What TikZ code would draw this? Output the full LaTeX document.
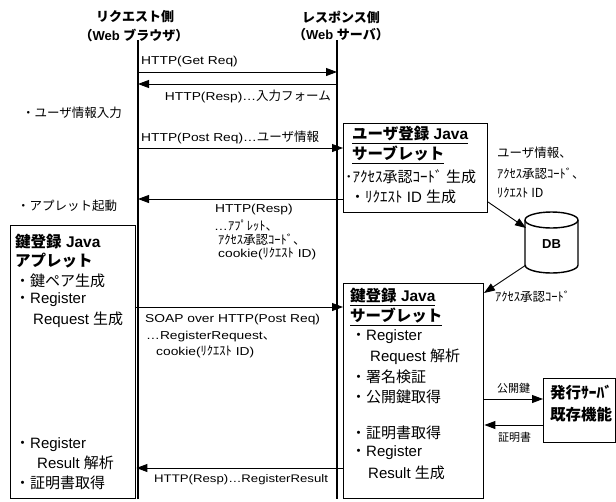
\documentclass[tikz,border=0pt]{standalone}
\usepackage{fontspec}
\setmainfont{Liberation Sans}
\newfontfamily\latf{Liberation Sans}[FakeStretch=1.2]
\newfontfamily\jpf{Noto Sans CJK JP}
\usetikzlibrary{arrows.meta}
\newcommand\LL[1]{{\fontsize{11.5}{13}\selectfont\latf #1}}
\newcommand\JL[1]{{\fontsize{12.5}{14}\selectfont\jpf #1}}
\newcommand\JS[1]{{\fontsize{11}{13}\selectfont\jpf #1}}
\newcommand\J[1]{{\jpf #1}}
\begin{document}
\begin{tikzpicture}[x=1pt,y=-1pt,
  box/.style={draw, line width=1.4pt, inner sep=0, anchor=north west},
  life/.style={line width=1.2pt},
  msg/.style={line width=0.9pt, -{Triangle[length=11pt,width=8pt]}},
  txt/.style={inner sep=0, anchor=west},
  bx/.style={txt, font=\fontsize{15}{17}\selectfont},
  hb/.style={txt, font=\fontsize{15.5}{17}\selectfont\bfseries},
  hd/.style={inner sep=0, font=\fontsize{13}{15}\selectfont\bfseries},
]
\useasboundingbox (0,0) rectangle (616,501);
% headers
\node[hd] (hL1) at (135,17) {\jpf リクエスト側};
\node[hd] (hL2) at (134,35) {\jpf （\rmfamily Web \jpf ブラウザ）};
\node[hd] (hR1) at (341,17) {\jpf レスポンス側};
\node[hd] (hR2) at (341,35) {\jpf （\rmfamily Web \jpf サーバ）};
% lifelines
\coordinate (Lt) at (138,40); \coordinate (Lb) at (138,499);
\coordinate (Rt) at (337,40); \coordinate (Rb) at (337,499);
\draw[life] (Lt) -- (Lb);
\draw[life] (Rt) -- (Rb);
% boxes
\node[box, minimum width=144pt, minimum height=89pt] (us) at (343,123) {};
\node[box, minimum width=125pt, minimum height=273pt] (ap) at (10,225) {};
\node[box, minimum width=140pt, minimum height=215pt] (ks) at (343,283) {};
\node[box, minimum width=72pt, minimum height=64pt] (hs) at (543,378) {};
% DB cylinder
\draw[line width=1.4pt] (525,220) -- (525,265) arc[start angle=180,end angle=0,x radius=26.5,y radius=8] -- (578,220);
\draw[line width=1.4pt] (551.5,220) ellipse[x radius=26.5,y radius=8];
\node[inner sep=0,font=\fontsize{13}{15}\selectfont\bfseries] (db) at (551.5,244) {DB};
% messages
\coordinate (m1a) at (138,72); \coordinate (m1b) at (337,72);
\draw[msg] (m1a) -- (m1b);
\coordinate (m2a) at (338,84); \coordinate (m2b) at (138,84);
\draw[msg] (m2a) -- (m2b);
\draw[msg] (Lt |- 0,148) -- (us.west |- 0,148);
\draw[msg] (us.west |- 0,199) -- (Lt |- 0,199);
\draw[msg] (ap.east |- 0,307) -- (ks.west |- 0,307);
\draw[msg] (ks.west |- 0,468) -- (ap.east |- 0,468);
\coordinate (d1a) at (488,202); \coordinate (d1b) at (526,228);
\draw[msg] (d1a) -- (d1b);
\coordinate (d2a) at (526,265); \coordinate (d2b) at (484,293);
\draw[msg] (d2a) -- (d2b);
\draw[msg] (ks.east |- 0,399) -- (hs.west |- 0,399);
\draw[msg] (hs.west |- 0,425) -- (ks.east |- 0,425);
% message labels
\node[txt] (l1) at (141,62) {\LL{HTTP(Get Req)}};
\node[txt,anchor=east] (l2) at (331,96) {\LL{HTTP(Resp)…}\JL{入力フォーム}};
\node[txt] (n1) at (22,113) {\JL{・ユーザ情報入力}};
\node[txt] (l3) at (141,137) {\LL{HTTP(Post Req)…}\JL{ユーザ情報}};
\node[txt] (n2) at (17,206) {\JL{・アプレット起動}};
\node[txt] (l4a) at (215,210) {\LL{HTTP(Resp)}};
\node[txt] (l4b) at (214,226) {\LL{…}\JL{ｱﾌﾟﾚｯﾄ、}};
\node[txt] (l4c) at (218,240) {\JL{ｱｸｾｽ承認ｺｰﾄﾞ、}};
\node[txt] (l4d) at (218,254) {\LL{cookie(}\JL{ﾘｸｴｽﾄ}\LL{ ID)}};
\node[txt] (l5a) at (145,320) {\LL{SOAP over HTTP(Post Req)}};
\node[txt] (l5b) at (146,337) {\LL{…RegisterRequest}\JL{、}};
\node[txt] (l5c) at (156,352) {\LL{cookie(}\JL{ﾘｸｴｽﾄ}\LL{ ID)}};
\node[txt] (l6) at (154,480) {{\fontsize{11}{13}\selectfont\latf HTTP(Resp)…RegisterResult}};
\node[txt] (d1) at (497,153) {\JL{ユーザ情報、}};
\node[txt] (d2) at (497,174) {\JL{ｱｸｾｽ承認ｺｰﾄﾞ、}};
\node[txt] (d3) at (497,193) {\JL{ﾘｸｴｽﾄ ID}};
\node[txt] (d4) at (495,297) {\JL{ｱｸｾｽ承認ｺｰﾄﾞ}};
\node[txt] (p1) at (497,388) {\JS{公開鍵}};
\node[txt] (p2) at (498,437) {\JS{証明書}};
% user servlet box text
\node[hb] (u1) at (352,135) {\underline{\J{ユーザ登録} Java}};
\node[hb] (u2) at (352,155) {\underline{\J{サーブレット}}};
\node[bx] (u3) at (345,177) {\J{･ｱｸｾｽ承認ｺｰﾄﾞ 生成}};
\node[bx] (u4) at (350,197) {\J{・ﾘｸｴｽﾄ} ID \J{生成}};
% applet box text
\node[hb] (a1) at (15,242) {\J{鍵登録} Java};
\node[hb] (a2) at (15,261) {\J{アプレット}};
\node[bx] (a3) at (15,281) {\J{・鍵ペア生成}};
\node[bx] (a4) at (15,300) {\J{・}Register};
\node[bx] (a5) at (33,320) {Request \J{生成}};
\node[bx] (a6) at (15,445) {\J{・}Register};
\node[bx] (a7) at (37,463) {Result \J{解析}};
\node[bx] (a8) at (15,483) {\J{・証明書取得}};
% key servlet box text
\node[hb] (k3) at (350,297) {\underline{\J{鍵登録} Java}};
\node[hb] (k4) at (350,317) {\underline{\J{サーブレット}}};
\node[bx] (k5) at (351,337) {\J{・}Register};
\node[bx] (k6) at (370,357) {Request \J{解析}};
\node[bx] (k7) at (351,377) {\J{・署名検証}};
\node[bx] (k8) at (351,397) {\J{・公開鍵取得}};
\node[bx] (k9) at (351,433) {\J{・証明書取得}};
\node[bx] (k10) at (351,453) {\J{・}Register};
\node[bx] (k11) at (368,473) {Result \J{生成}};
% issuing server box text
\node[hb] (s1) at (550,393) {\J{発行ｻｰﾊﾞ}};
\node[hb] (s2) at (550,415) {\J{既存機能}};
\end{tikzpicture}
\end{document}
